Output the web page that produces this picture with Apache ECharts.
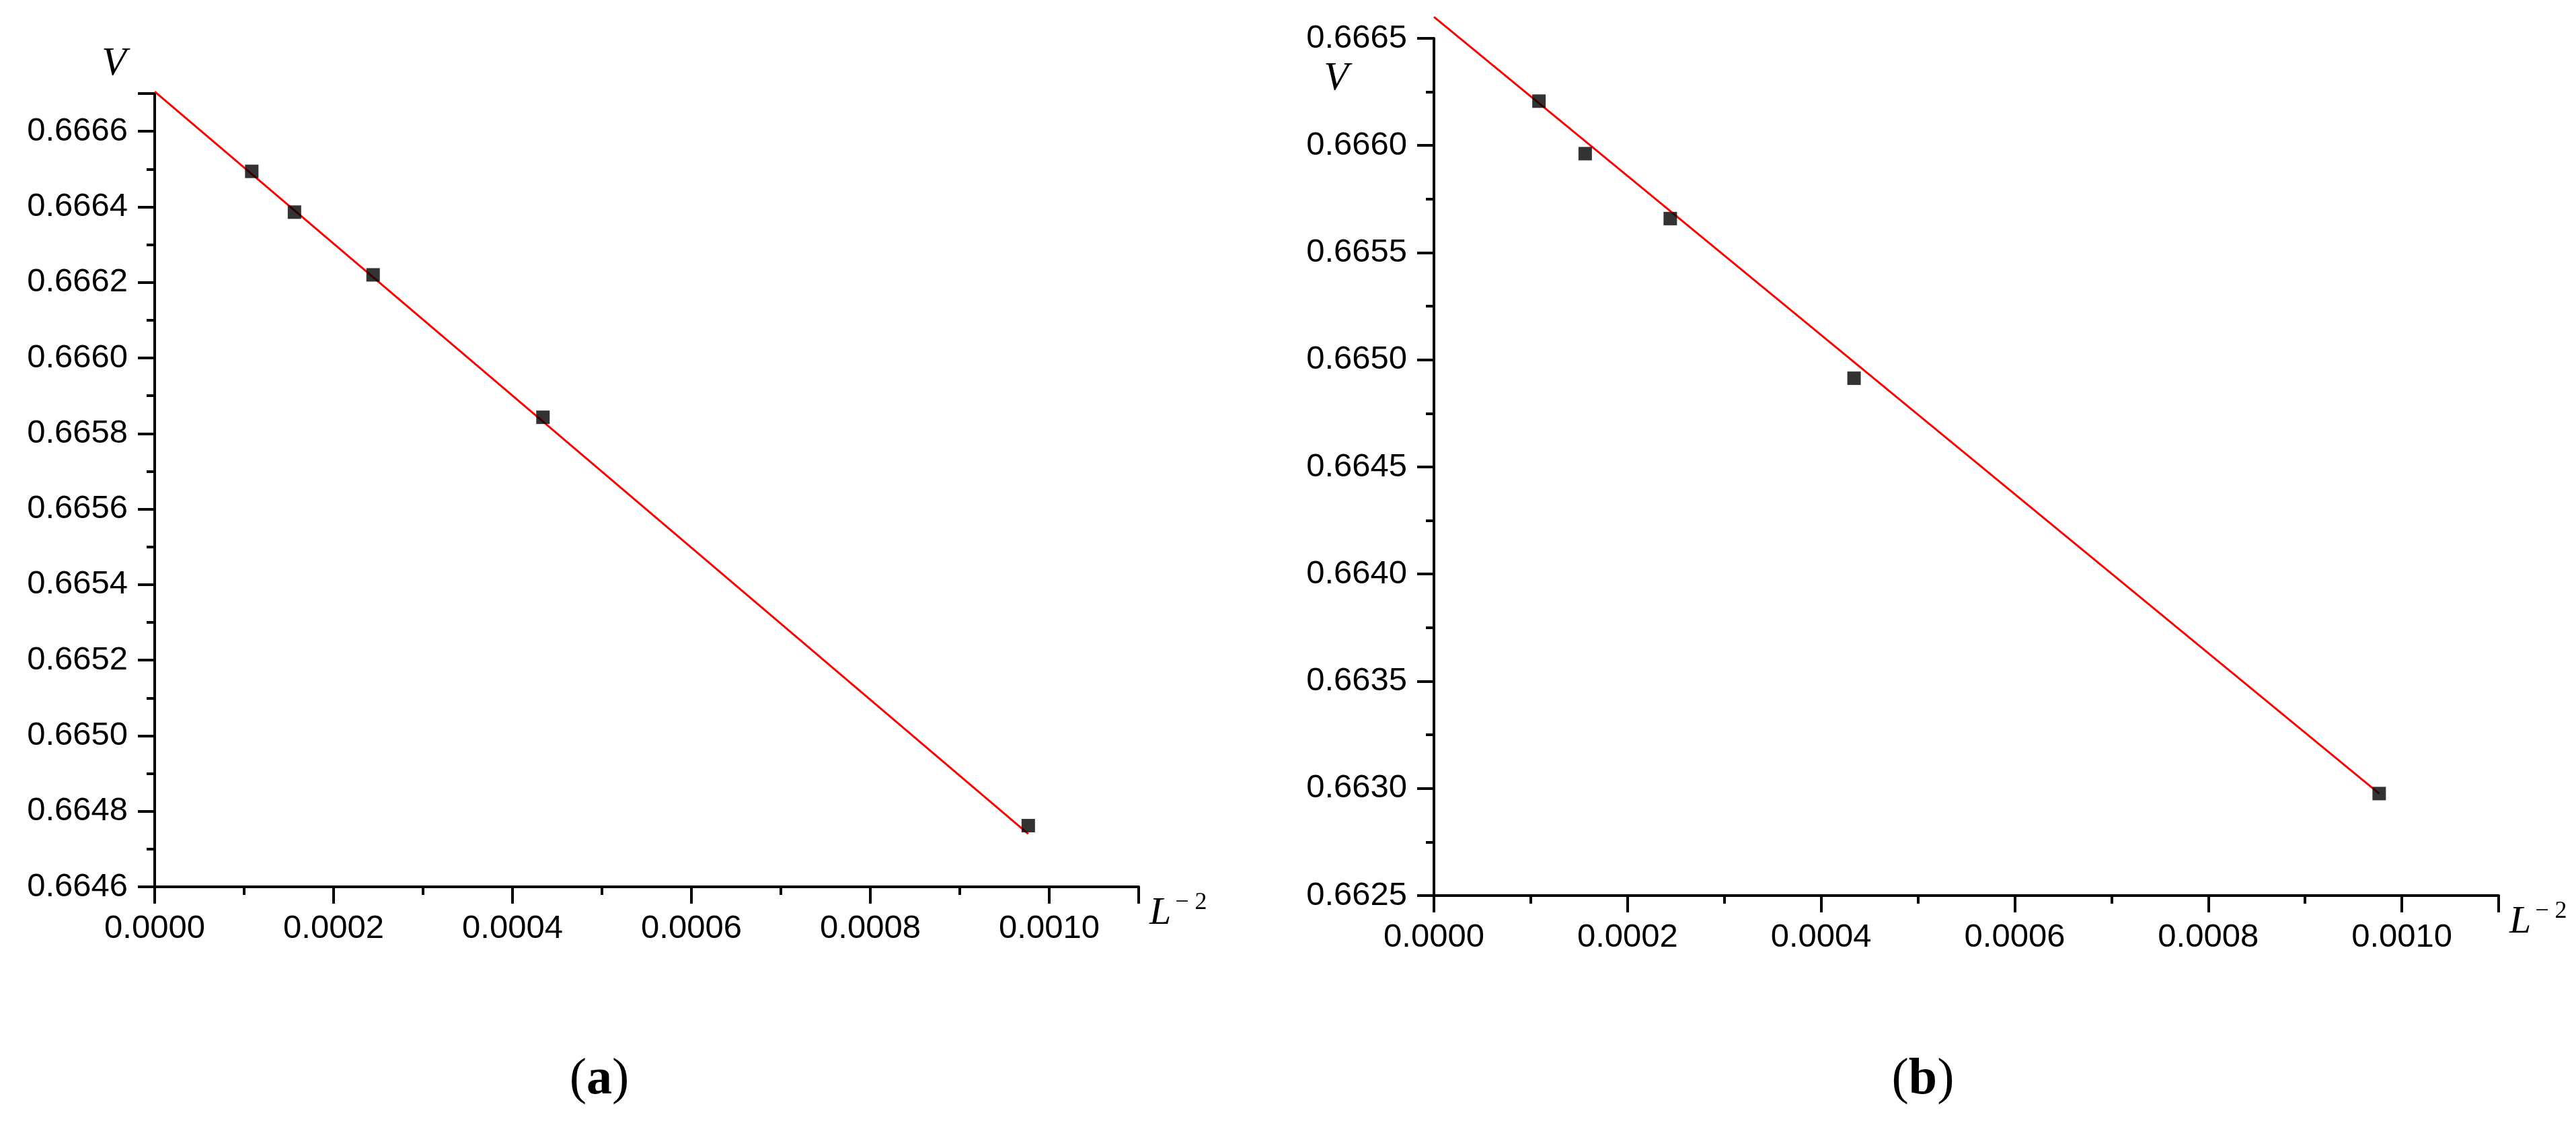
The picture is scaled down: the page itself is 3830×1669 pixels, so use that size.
<!DOCTYPE html>
<html>
<head>
<meta charset="utf-8">
<script src="https://cdn.jsdelivr.net/npm/echarts@6/dist/echarts.min.js"></script>
<style>
  html, body { margin: 0; padding: 0; background: #fff; }
  #chart { width: 3830px; height: 1669px; }
</style>
</head>
<body>
<div id="chart"></div>
<script>
// 1/L^2 for L = 96, 80, 64, 48, 32
const invL2 = [0.00010851, 0.00015625, 0.00024414, 0.00043403, 0.00097656]
// panel (a)
const valuesA = [0.666494, 0.666386, 0.666220, 0.665843, 0.664762]
const fitA = [[0, 0.666705], [0.00097656, 0.664740]]
// panel (b)
const valuesB = [0.666207, 0.665962, 0.665659, 0.664914, 0.662976]
const fitB = [[0, 0.666600], [0.00097656, 0.662976]]

const xTicks = ['0.0000', '0.0002', '0.0004', '0.0006', '0.0008', '0.0010']

const font = 'Liberation Sans'
const axisColor = '#000'

function xAxisConf (gridIndex) {
  return {
    type: 'value',
    gridIndex: gridIndex,
    min: 0,
    max: 0.0011,
    interval: 0.0002,
    name: '{l|L}{s|− 2}',
    nameLocation: 'end',
    nameGap: 16,
    nameTextStyle: {
      padding: [80, 0, 0, 0],
      rich: {
        l: { fontFamily: 'Liberation Serif', fontStyle: 'italic', fontSize: 58, color: '#000' },
        s: { fontFamily: 'Liberation Serif', fontSize: 36, color: '#000', verticalAlign: 'top', padding: [0, 0, 32, 6] }
      }
    },
    axisLine: { show: true, onZero: false, lineStyle: { color: axisColor, width: 4 } },
    axisTick: { show: true, inside: false, length: 25, lineStyle: { color: axisColor, width: 4 } },
    minorTick: { show: true, splitNumber: 2, length: 12, lineStyle: { color: axisColor, width: 4 } },
    splitLine: { show: false },
    axisLabel: {
      fontFamily: font,
      fontSize: 49,
      color: '#000',
      margin: 38,
      showMaxLabel: false,
      formatter: function (v) {
        let s = v.toFixed(4)
        return xTicks.indexOf(s) >= 0 ? s : ''
      }
    }
  }
}

function yAxisConf (gridIndex, min, max, interval, nameGap, namePad) {
  return {
    type: 'value',
    gridIndex: gridIndex,
    min: min,
    max: max,
    interval: interval,
    name: 'V',
    nameLocation: 'end',
    nameGap: nameGap,
    nameTextStyle: {
      fontFamily: 'Liberation Serif',
      fontStyle: 'italic',
      fontSize: 60,
      color: '#000',
      align: 'right',
      padding: [0, namePad, 0, 0]
    },
    axisLine: { show: true, onZero: false, lineStyle: { color: axisColor, width: 4 } },
    axisTick: { show: true, length: 25, lineStyle: { color: axisColor, width: 4 } },
    minorTick: { show: true, splitNumber: 2, length: 12, lineStyle: { color: axisColor, width: 4 } },
    splitLine: { show: false },
    axisLabel: {
      fontFamily: font,
      fontSize: 49,
      color: '#000',
      margin: 40,
      formatter: function (v) {
        let r = Math.round(v / interval)
        return Math.abs(r * interval - v) < 1e-9 ? v.toFixed(4) : ''
      }
    }
  }
}

const chart = echarts.init(document.getElementById('chart'), null, { renderer: 'canvas' })
let yA = yAxisConf(0, 0.6646, 0.6667, 0.0002, 14, 42)
yA.axisLabel.showMaxLabel = false
let yB = yAxisConf(1, 0.6625, 0.6665, 0.0005, -90, 127)
chart.setOption({
  backgroundColor: '#fff',
  animation: false,
  title: [
    {
      text: '({a|a})',
      left: 886, top: 1562,
      textAlign: 'center',
      textStyle: { fontFamily: 'Liberation Serif', fontSize: 76, fontWeight: 'normal', color: '#000',
        rich: { a: { fontFamily: 'Liberation Serif', fontSize: 76, fontWeight: 'bold', color: '#000' } } }
    },
    {
      text: '({b|b})',
      left: 2854, top: 1562,
      textAlign: 'center',
      textStyle: { fontFamily: 'Liberation Serif', fontSize: 76, fontWeight: 'normal', color: '#000',
        rich: { b: { fontFamily: 'Liberation Serif', fontSize: 76, fontWeight: 'bold', color: '#000' } } }
    }
  ],
  grid: [
    { left: 230, top: 139, width: 1463, height: 1179 },
    { left: 2132, top: 57, width: 1583, height: 1274 }
  ],
  xAxis: [xAxisConf(0), xAxisConf(1)],
  yAxis: [yA, yB],
  series: [
    {
      type: 'line', xAxisIndex: 0, yAxisIndex: 0, data: fitA,
      symbol: 'none', clip: false, lineStyle: { color: '#ff0000', width: 3 }, z: 2
    },
    {
      type: 'scatter', xAxisIndex: 0, yAxisIndex: 0,
      data: invL2.map((x, i) => [x, valuesA[i]]),
      symbol: 'rect', symbolSize: 20, itemStyle: { color: '#000' }, z: 3
    },
    {
      type: 'line', xAxisIndex: 1, yAxisIndex: 1, data: fitB,
      symbol: 'none', clip: false, lineStyle: { color: '#ff0000', width: 3 }, z: 2
    },
    {
      type: 'scatter', xAxisIndex: 1, yAxisIndex: 1,
      data: invL2.map((x, i) => [x, valuesB[i]]),
      symbol: 'rect', symbolSize: 20, itemStyle: { color: '#000' }, z: 3
    }
  ]
})
</script>
</body>
</html>
